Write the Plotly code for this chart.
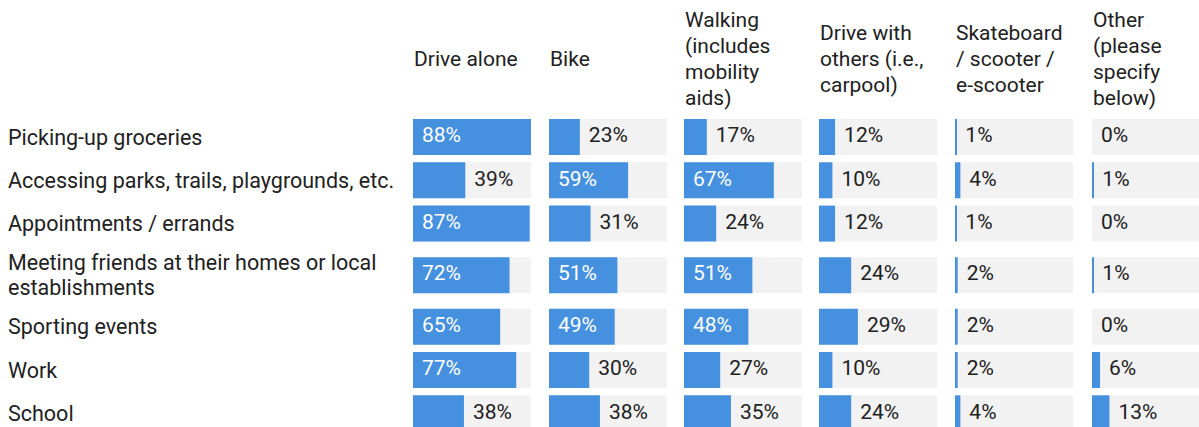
import plotly.graph_objects as go

# Trip purposes (row labels) and travel modes (column headers)
purposes = [
    "Picking-up groceries",
    "Accessing parks, trails, playgrounds, etc.",
    "Appointments / errands",
    "Meeting friends at their homes or local<br>establishments",
    "Sporting events",
    "Work",
    "School",
]
modes = [
    "Drive alone",
    "Bike",
    "Walking<br>(includes<br>mobility<br>aids)",
    "Drive with<br>others (i.e.,<br>carpool)",
    "Skateboard<br>/ scooter /<br>e-scooter",
    "Other<br>(please<br>specify<br>below)",
]

# Share of respondents (%) per mode, one list per column, rows in purpose order
drive_alone = [88, 39, 87, 72, 65, 77, 38]
bike = [23, 59, 31, 51, 49, 30, 38]
walking = [17, 67, 24, 51, 48, 27, 35]
drive_with_others = [12, 10, 12, 24, 29, 10, 24]
skateboard_scooter = [1, 4, 1, 2, 2, 2, 4]
other = [0, 1, 0, 1, 0, 6, 13]

series = [drive_alone, bike, walking, drive_with_others, skateboard_scooter, other]

# ---- layout constants (pixels) ----
W, H = 1199, 427
BLUE = "#4590df"
TRACK = "#f2f2f2"
INK = "#212121"
FONT = "Roboto"
FS = 21            # headers and value labels
FS_ROW = 21.5      # row labels
HEADER_LH = 26     # line height for the column headers
LABEL_LH = 25      # line height for the row labels

col_left = [413, 549, 684, 819, 955, 1092]
col_w = 118
bar_h = 36
row_band = 43.3
extra_line = 16.5
first_center = 137
header_mid = 59
text_pad = 9

scale_max = max(max(s) for s in series)

# Row centres from label line counts
centers = []
y = first_center - row_band / 2
for lab in purposes:
    band = row_band + extra_line * lab.count("<br>")
    centers.append(y + band / 2)
    y += band


def add_text_block(fig, text, x_px, y_mid, line_h, size):
    """Place a multi-line label one line at a time so the line height is exact."""
    lines = text.split("<br>")
    n = len(lines)
    for k, line in enumerate(lines):
        fig.add_annotation(
            text=line, xref="paper", yref="y", x=x_px / W,
            y=y_mid + (k - (n - 1) / 2) * line_h,
            xanchor="left", yanchor="middle", align="left", showarrow=False,
            font=dict(family=FONT, size=size, color=INK),
        )


fig = go.Figure()
layout_axes = {}

for i, (vals, left) in enumerate(zip(series, col_left)):
    ax = "" if i == 0 else str(i + 1)
    xname = "x" + ax
    right = min(left + col_w, W)
    px_per_unit = col_w / scale_max
    rng_max = (right - left) / px_per_unit
    layout_axes["xaxis" + ax] = dict(
        domain=[left / W, right / W], range=[0, rng_max], anchor="y",
        visible=False, fixedrange=True,
    )

    # light track behind every bar
    fig.add_trace(go.Bar(
        x=[scale_max] * len(vals), y=centers, orientation="h", width=bar_h,
        marker=dict(color=TRACK, line=dict(width=0)),
        xaxis=xname, yaxis="y", hoverinfo="skip",
    ))
    # value bar
    fig.add_trace(go.Bar(
        x=vals, y=centers, orientation="h", width=bar_h,
        marker=dict(color=BLUE, line=dict(width=0)),
        xaxis=xname, yaxis="y", hoverinfo="skip",
    ))

    # value labels: inside (white) when the bar is wide enough, else after the bar
    pad = text_pad / px_per_unit
    tx, tc = [], []
    for v in vals:
        if v * px_per_unit >= 60:
            tx.append(pad)
            tc.append("white")
        else:
            tx.append(v + pad)
            tc.append(INK)
    fig.add_trace(go.Scatter(
        x=tx, y=centers, mode="text", text=[f"{v}%" for v in vals],
        textposition="middle right", textfont=dict(family=FONT, size=FS, color=tc),
        xaxis=xname, yaxis="y", hoverinfo="skip",
    ))

    add_text_block(fig, modes[i], left - 1, header_mid, HEADER_LH, FS)

for lab, c in zip(purposes, centers):
    add_text_block(fig, lab, 6, c, LABEL_LH, FS_ROW)

fig.update_layout(
    width=W, height=H, margin=dict(l=0, r=0, t=0, b=0),
    paper_bgcolor="white", plot_bgcolor="white",
    barmode="overlay", showlegend=False,
    yaxis=dict(domain=[0, 1], range=[H, 0], visible=False, fixedrange=True),
    **layout_axes,
)

fig.write_html("out.html", config={"displayModeBar": False})
